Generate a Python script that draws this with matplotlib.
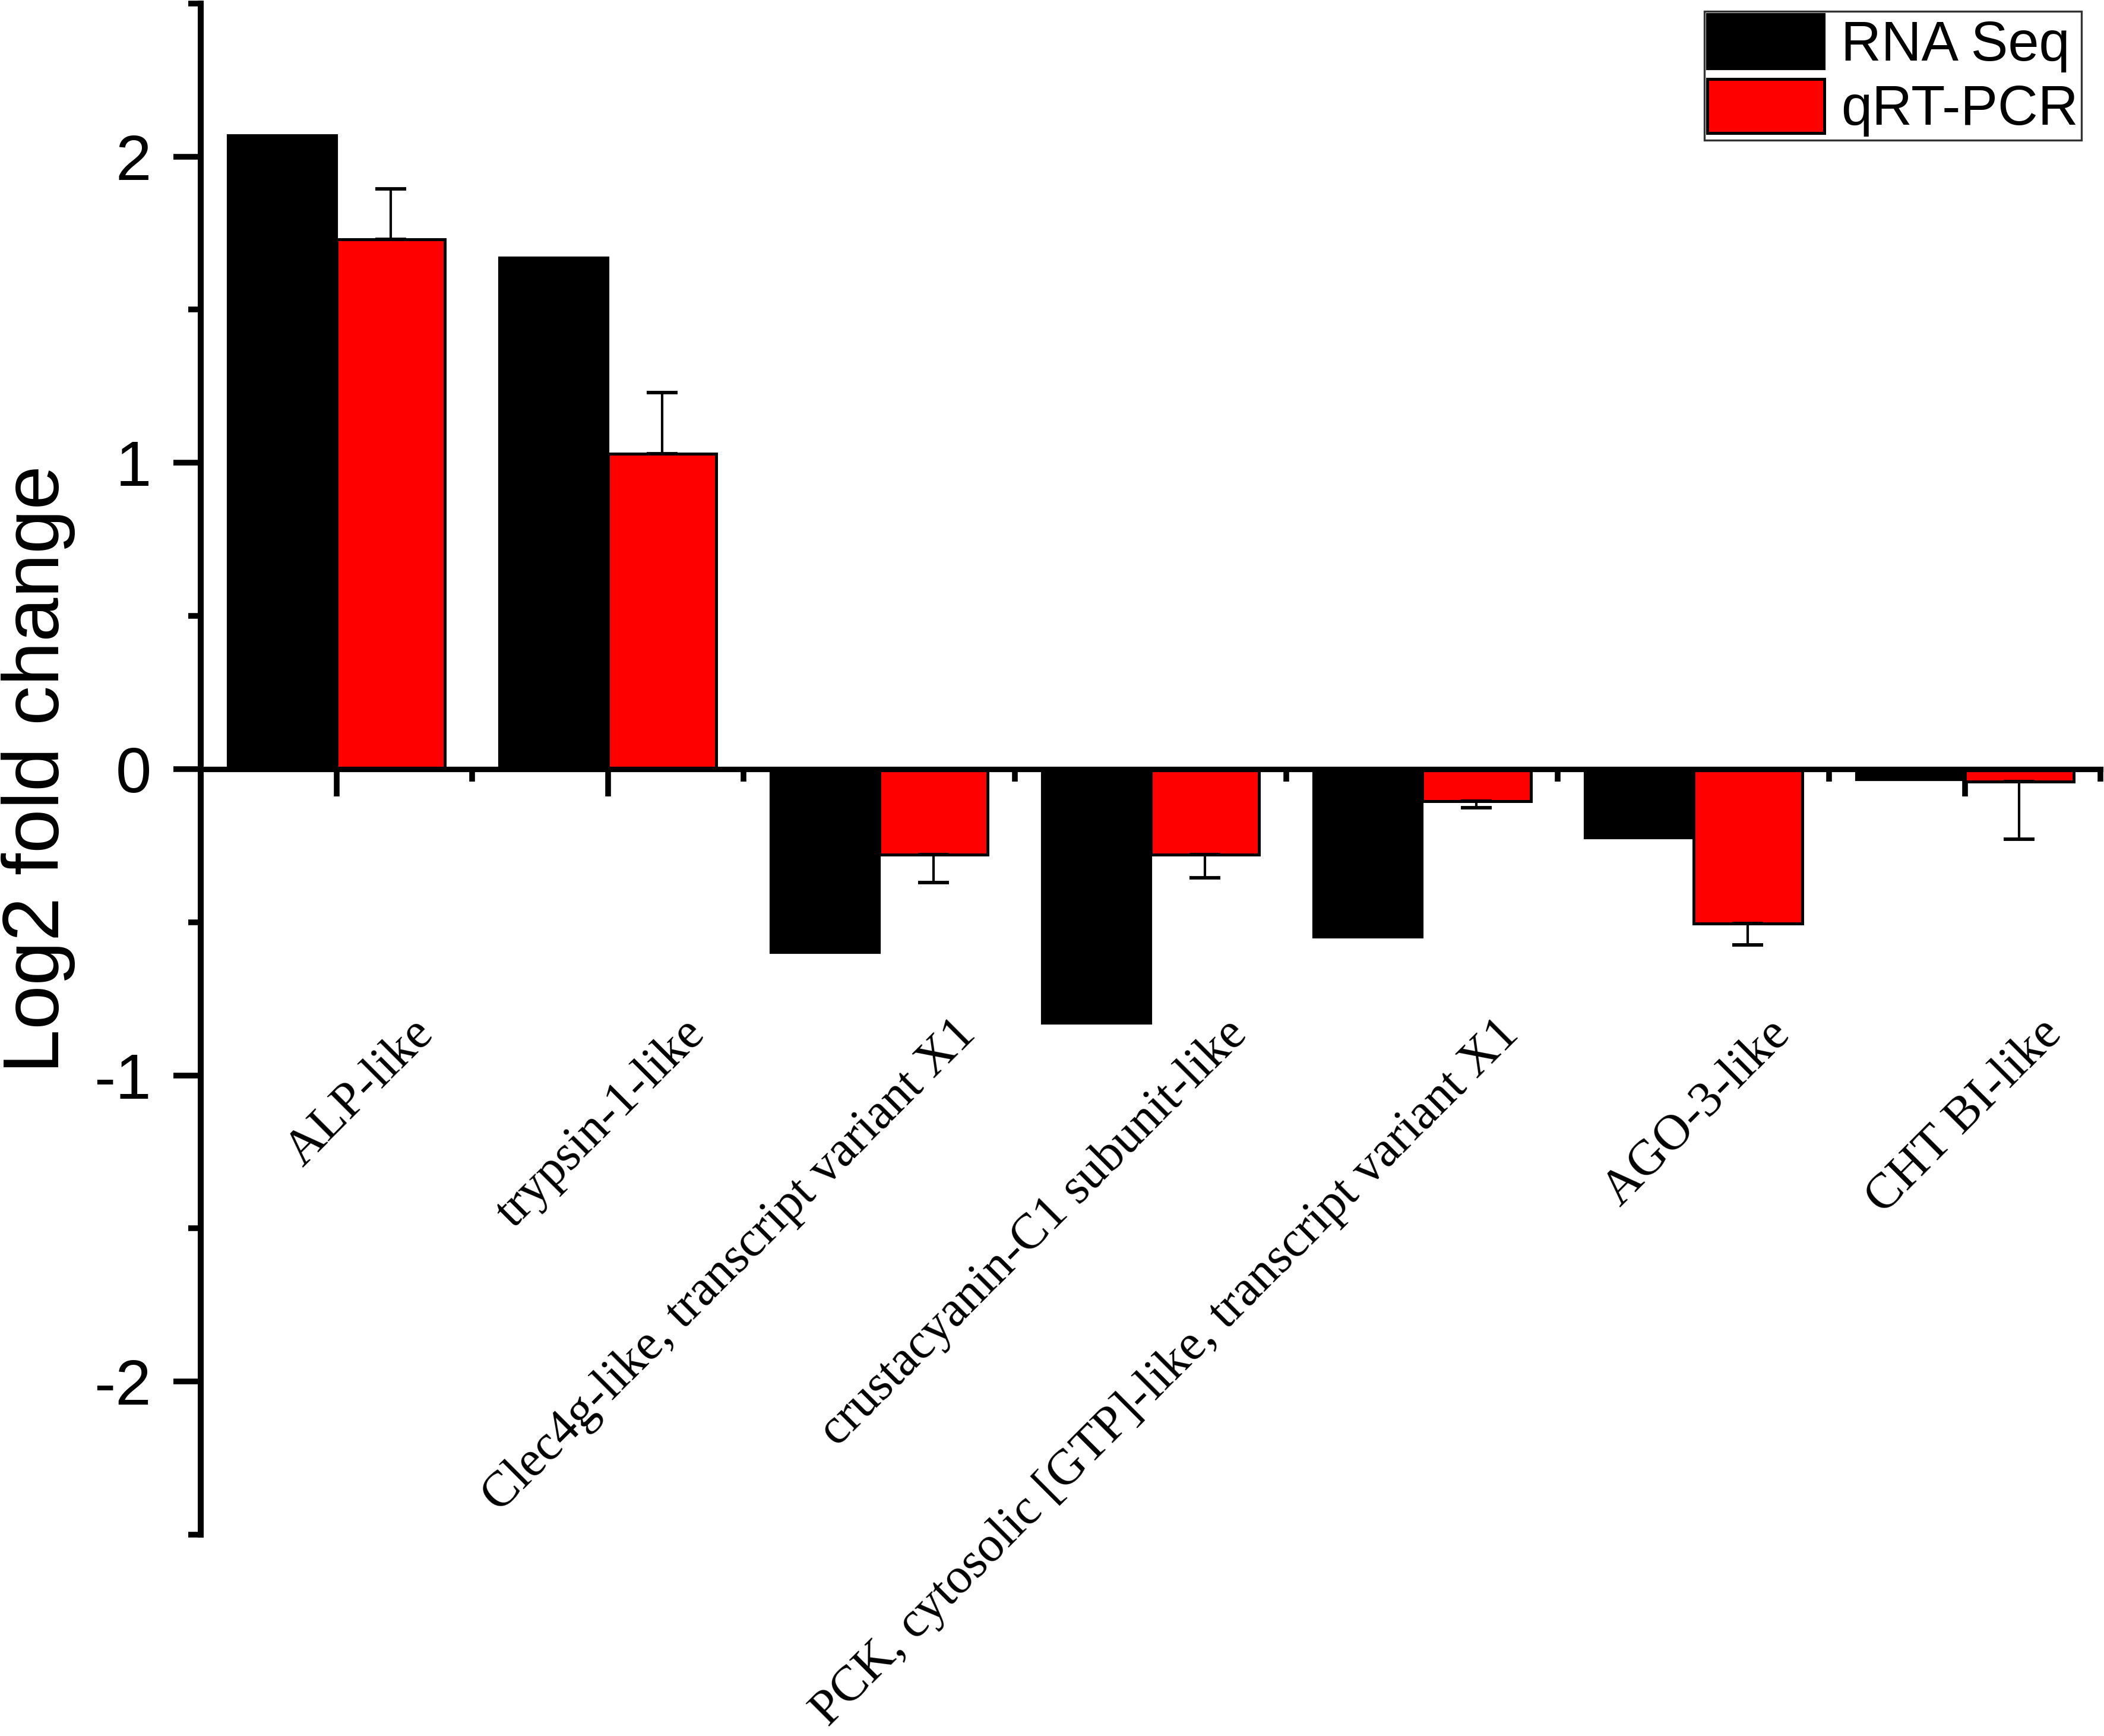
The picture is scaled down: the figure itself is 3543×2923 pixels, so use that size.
import numpy as np
import matplotlib
matplotlib.use('Agg')
import matplotlib.pyplot as plt
from matplotlib.ticker import MultipleLocator, FixedLocator
from matplotlib.patches import Patch

plt.rcParams['font.family'] = ['Liberation Sans', 'DejaVu Sans']

#資料
genes = ['ALP-like', 'trypsin-1-like', 'Clec4g-like, transcript variant X1',
         'crustacyanin-C1 subunit-like',
         'PCK, cytosolic [GTP]-like, transcript variant X1',
         'AGO-3-like', 'CHT BI-like']
rna_seq = [2.07, 1.67, -0.60, -0.83, -0.55, -0.225, -0.035]
qrt_pcr = [1.73, 1.03, -0.28, -0.28, -0.105, -0.505, -0.04]
qrt_err = [0.165, 0.20, 0.09, 0.075, 0.022, 0.07, 0.19]
series_names = ['RNA Seq', 'qRT-PCR']

x = np.arange(len(genes))
w = 0.4

#誤差線只畫一邊 (正值向上, 負值向下)
err = np.array(qrt_err)
vals = np.array(qrt_pcr)
yerr = [np.where(vals < 0, err, 0), np.where(vals >= 0, err, 0)]

fig = plt.figure(figsize=(3543 / 300, 2923 / 300), dpi=300)
ax = fig.add_axes([0.0954, 0.116, 0.903, 0.882])

ax.bar(x - w / 2, rna_seq, w, color='black', edgecolor='black', linewidth=1.0)
ax.bar(x + w / 2, qrt_pcr, w, color='#ff0000', edgecolor='black', linewidth=1.2,
       yerr=yerr, error_kw=dict(ecolor='black', elinewidth=1.0, capsize=6.2, capthick=1.4))

ax.set_xlim(-0.5, len(genes) - 0.5)
ax.set_ylim(-2.5, 2.5)
ax.set_axisbelow(True)

#座標軸
for s in ['top', 'right']:
    ax.spines[s].set_visible(False)
ax.spines['bottom'].set_position(('data', 0))
ax.spines['left'].set_linewidth(2.4)
ax.spines['bottom'].set_linewidth(2.2)

ax.set_xticks(x)
ax.set_xticklabels([])
ax.xaxis.set_minor_locator(FixedLocator(np.arange(-0.5, len(genes), 1.0)))
ax.set_yticks([-2, -1, 0, 1, 2])
ax.set_yticklabels(['-2', '-1', '0', '1', '2'])
ax.yaxis.set_minor_locator(MultipleLocator(0.5))
ax.tick_params(which='major', direction='out', length=11, width=2.3, labelsize=26, pad=9)
ax.tick_params(which='minor', direction='out', length=5, width=2.3)

for i, g in enumerate(genes):
    ax.text(i + 0.27, -0.79, g, rotation=45, ha='right', va='top',
            rotation_mode='anchor', fontsize=20.3,
            family=['Liberation Serif', 'DejaVu Serif'])

ax.set_ylabel('Log2 fold change', fontsize=32)
ax.yaxis.set_label_coords(-0.066, 0.5)

handles = [Patch(facecolor='black', edgecolor='black'),
           Patch(facecolor='#ff0000', edgecolor='black', linewidth=1.2)]
leg = ax.legend(handles, series_names, loc='upper right', bbox_to_anchor=(0.99, 0.995),
                borderaxespad=0, fontsize=22.5, frameon=True, fancybox=False,
                handlelength=2.1, handleheight=1.12, handletextpad=0.3,
                labelspacing=0.12, borderpad=0.06)
leg.get_frame().set_edgecolor('black')
leg.get_frame().set_linewidth(0.8)

fig.savefig('out.png', dpi=300)
